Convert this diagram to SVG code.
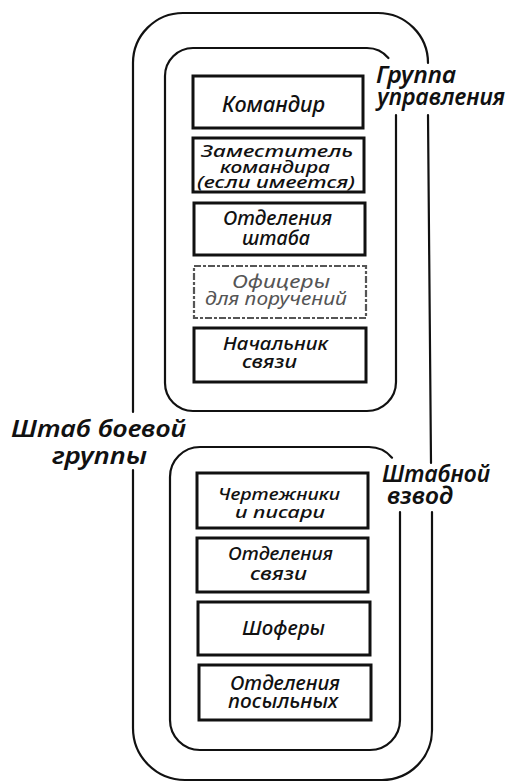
<svg xmlns="http://www.w3.org/2000/svg" width="508" height="783" viewBox="0 0 508 783">
<style>
  .frame { fill: none; stroke: #111; stroke-width: 2.2; stroke-linecap: round; stroke-linejoin: round; }
  .box { fill: #fff; stroke: #111; stroke-width: 3; }
  .faint { fill: #fff; stroke: #555; stroke-width: 2.2; stroke-dasharray: 7 2 3 2; }
  text { font-family: "Noto Sans", "Liberation Sans", "DejaVu Sans", sans-serif; font-style: italic; font-weight: 500; fill: #111; }
  .c { text-anchor: middle; }
  .lbl { font-size: 23px; font-weight: 600; }
  .ft { fill: #555; font-weight: 400; }
</style>
<rect x="0" y="0" width="508" height="783" fill="#fff"/>
<g id="connectors">
  <path class="frame" d="M 428 63 A 50 50 0 0 0 378 13 H 183 A 50 50 0 0 0 133 63 V 412"/>
  <path class="frame" d="M 133 470 V 728 A 52 52 0 0 0 185 780 H 382 A 50 50 0 0 0 432 730 V 512"/>
  <path class="frame" d="M 431 463 L 428 115"/>
  <path class="frame" d="M 388.4 58 A 28 28 0 0 0 367 48 H 193 A 28 28 0 0 0 165 76 V 383 A 28 28 0 0 0 193 411 H 367 A 29 29 0 0 0 396 382 V 115"/>
  <path class="frame" d="M 392 457.7 A 30 30 0 0 0 369 447 H 200 A 30 30 0 0 0 170 477 V 720 A 30 30 0 0 0 200 750 H 370 A 30 30 0 0 0 400 720 V 512"/>
</g>
<g id="label-gruppa-upravleniya">
  <text class="lbl" x="376" y="83" textLength="80" lengthAdjust="spacingAndGlyphs">Группа</text>
  <text class="lbl" x="377" y="105" textLength="128" lengthAdjust="spacingAndGlyphs">управления</text>
</g>
<g id="label-shtab-boevoy-gruppy">
  <text class="lbl" x="11" y="437" textLength="175" lengthAdjust="spacingAndGlyphs">Штаб боевой</text>
  <text class="lbl" x="52" y="464" textLength="95" lengthAdjust="spacingAndGlyphs">группы</text>
</g>
<g id="label-shtabnoy-vzvod">
  <text class="lbl" x="382" y="482" textLength="108" lengthAdjust="spacingAndGlyphs">Штабной</text>
  <text class="lbl" x="387" y="504" textLength="66" lengthAdjust="spacingAndGlyphs">взвод</text>
</g>
<g id="node-komandir">
  <rect class="box" x="193" y="76" width="170" height="52"/>
  <text class="c" x="273.5" y="112" font-size="21" textLength="103" lengthAdjust="spacingAndGlyphs">Командир</text>
</g>
<g id="node-zamestitel">
  <rect class="box" x="193" y="138" width="171" height="54"/>
  <text class="c" x="277" y="157" font-size="16" textLength="152" lengthAdjust="spacingAndGlyphs">Заместитель</text>
  <text class="c" x="275" y="173" font-size="16" textLength="110" lengthAdjust="spacingAndGlyphs">командира</text>
  <text class="c" x="276" y="188" font-size="16" textLength="158" lengthAdjust="spacingAndGlyphs">(если имеется)</text>
</g>
<g id="node-otdeleniya-shtaba">
  <rect class="box" x="194" y="203" width="171" height="52"/>
  <text class="c" x="277.5" y="225" font-size="19" textLength="109" lengthAdjust="spacingAndGlyphs">Отделения</text>
  <text class="c" x="276" y="245" font-size="19" textLength="68" lengthAdjust="spacingAndGlyphs">штаба</text>
</g>
<g id="node-ofitsery">
  <rect class="faint" x="194" y="266" width="172" height="52"/>
  <text class="c ft" x="281" y="288" font-size="18" textLength="98" lengthAdjust="spacingAndGlyphs">Офицеры</text>
  <text class="c ft" x="276" y="305" font-size="18" textLength="142" lengthAdjust="spacingAndGlyphs">для поручений</text>
</g>
<g id="node-nachalnik-svyazi">
  <rect class="box" x="194" y="328" width="172" height="54"/>
  <text class="c" x="275.5" y="350" font-size="18" textLength="105" lengthAdjust="spacingAndGlyphs">Начальник</text>
  <text class="c" x="269.5" y="368" font-size="18" textLength="55" lengthAdjust="spacingAndGlyphs">связи</text>
</g>
<g id="node-chertezhniki">
  <rect class="box" x="197" y="473" width="171" height="55"/>
  <text class="c" x="279" y="500" font-size="17" textLength="122" lengthAdjust="spacingAndGlyphs">Чертежники</text>
  <text class="c" x="280" y="518" font-size="17" textLength="90" lengthAdjust="spacingAndGlyphs">и писари</text>
</g>
<g id="node-otdeleniya-svyazi">
  <rect class="box" x="197" y="538" width="171" height="54"/>
  <text class="c" x="280.5" y="560" font-size="18" textLength="105" lengthAdjust="spacingAndGlyphs">Отделения</text>
  <text class="c" x="278.5" y="580" font-size="18" textLength="57" lengthAdjust="spacingAndGlyphs">связи</text>
</g>
<g id="node-shofery">
  <rect class="box" x="198" y="602" width="172" height="53"/>
  <text class="c" x="283.5" y="635" font-size="20" textLength="83" lengthAdjust="spacingAndGlyphs">Шоферы</text>
</g>
<g id="node-otdeleniya-posylnykh">
  <rect class="box" x="199" y="665" width="172" height="55"/>
  <text class="c" x="285" y="690" font-size="20" textLength="110" lengthAdjust="spacingAndGlyphs">Отделения</text>
  <text class="c" x="283" y="708" font-size="20" textLength="110" lengthAdjust="spacingAndGlyphs">посыльных</text>
</g>
</svg>
